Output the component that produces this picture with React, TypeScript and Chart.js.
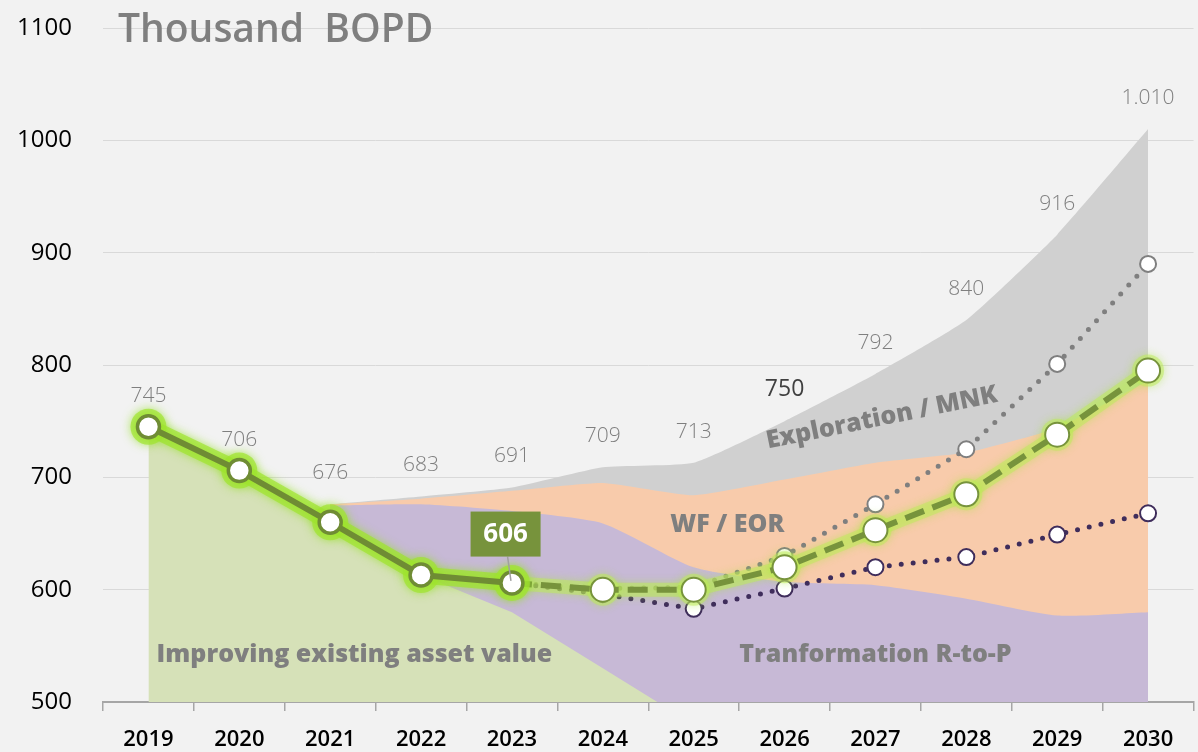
import React, { useEffect, useRef } from 'react';
import { Chart, registerables } from 'chart.js';

Chart.register(...registerables);

// ---------- data ----------
const years = ['2019', '2020', '2021', '2022', '2023', '2024', '2025', '2026', '2027', '2028', '2029', '2030'];

const actualLine = [745, 706, 660, 613, 606, null, null, null, null, null, null, null];
const basePlan = [null, null, null, null, 606, 600, 600, 620, 653, 685, 738, 795];
const highCase = [null, null, null, null, 606, 601, 602, 630, 676, 725, 801, 890];
const lowCase = [null, null, null, null, 606, 596, 583, 601, 620, 629, 649, 668];

const improvingArea = [745, 706, 660, 613, 580, 530, 480, null, null, null, null, null];
const transformationTop = [null, null, 675, 676, 670, 659, 620, 607, 604, 592, 577, 580];
const wfEorTop = [null, null, 676, 681, 688, 695, 684, 698, 713, 722, 744, 786];
const explorationTop = [null, null, 676, 683, 691, 709, 713, 750, 792, 840, 916, 1010];

const totalValues = [745, 706, 676, 683, 691, 709, 713, 750, 792, 840, 916, 1010];
const totalLabels = ['745', '706', '676', '683', '691', '709', '713', '750', '792', '840', '916', '1.010'];

const yMin = 500;
const yMax = 1100;
const yStep = 100;

const titleText = 'Thousand  BOPD';
const calloutText = '606';

// ---------- annotation placement (data coordinates) ----------
const areaNotes = [
  { text: 'Improving existing asset value', index: 0.09, value: 536, align: 'left', angle: 0 },
  { text: 'Tranformation R-to-P', index: 8, value: 536, align: 'center', angle: 0 },
  { text: 'WF / EOR', index: 6.37, value: 651.5, align: 'center', angle: 0 },
  { text: 'Exploration / MNK', index: 8.07, value: 752.7, align: 'center', angle: -11.5 },
];
const callout = { index: 3.93, value: 649.5, targetIndex: 4, targetValue: 606 };

const FONT = '"Open Sans", "Noto Sans", sans-serif';
const W = 1198;
const H = 752;
const CANVAS_W = 1208;

const glowPlugin = {
  id: 'glowPlugin',
  beforeDatasetDraw(chart: any, args: any) {
    const ds = chart.data.datasets[args.index];
    if (!ds.glow) return;
    const meta = args.meta;
    const ctx = chart.ctx;
    ctx.save();
    ctx.beginPath();
    ctx.rect(chart.chartArea.left, chart.chartArea.top, chart.chartArea.right - chart.chartArea.left, chart.chartArea.bottom - chart.chartArea.top);
    ctx.clip();
    ctx.shadowColor = ds.glow.shadow;
    ctx.shadowBlur = ds.glow.blur;
    ctx.strokeStyle = ds.glow.color;
    ctx.fillStyle = ds.glow.color;
    ctx.lineWidth = ds.glow.width;
    ctx.lineJoin = 'round';
    ctx.lineCap = 'round';
    ctx.beginPath();
    let started = false;
    meta.data.forEach((pt: any, i: number) => {
      if (ds.data[i] == null) return;
      if (!started) { ctx.moveTo(pt.x, pt.y); started = true; } else ctx.lineTo(pt.x, pt.y);
    });
    ctx.stroke();
    meta.data.forEach((pt: any, i: number) => {
      if (ds.data[i] == null) return;
      ctx.beginPath();
      ctx.arc(pt.x, pt.y, ds.glow.r, 0, Math.PI * 2);
      ctx.fill();
    });
    ctx.restore();
  },
};

const textPlugin = {
  id: 'textPlugin',
  afterDatasetsDraw(chart: any) {
    const ctx = chart.ctx;
    const xs = chart.scales.x;
    const ys = chart.scales.y;
    const area = chart.chartArea;
    ctx.save();

    // title
    ctx.font = `600 39px ${FONT}`;
    ctx.fillStyle = '#7f7f7f';
    ctx.textAlign = 'left';
    ctx.textBaseline = 'alphabetic';
    ctx.fillText(titleText, area.left + 15, area.top + 14);

    // total labels
    totalValues.forEach((v, i) => {
      const x = xs.getPixelForValue(i);
      const y = ys.getPixelForValue(v) - 25;
      const special = totalLabels[i] === '750';
      ctx.font = special ? `400 23px ${FONT}` : `300 21px ${FONT}`;
      ctx.fillStyle = special ? '#404040' : '#7f7f7f';
      ctx.textAlign = 'center';
      ctx.fillText(totalLabels[i], x, y);
    });

    // area notes
    areaNotes.forEach((n) => {
      const x = xs.getPixelForValue(n.index);
      const y = ys.getPixelForValue(n.value);
      ctx.save();
      ctx.translate(x, y);
      ctx.rotate((n.angle * Math.PI) / 180);
      ctx.font = `800 25px ${FONT}`;
      ctx.fillStyle = '#7f7f7f';
      ctx.textAlign = n.align;
      ctx.textBaseline = n.angle ? 'middle' : 'alphabetic';
      ctx.fillText(n.text, 0, 0);
      ctx.restore();
    });

    // callout box
    const cx = xs.getPixelForValue(callout.index);
    const cy = ys.getPixelForValue(callout.value);
    const tx = xs.getPixelForValue(callout.targetIndex);
    const ty = ys.getPixelForValue(callout.targetValue);
    const bw = 70, bh = 45;
    ctx.strokeStyle = '#a0a0a0';
    ctx.lineWidth = 1.5;
    ctx.beginPath();
    ctx.moveTo(cx + 2, cy + bh / 2);
    ctx.lineTo(tx - 1, ty - 2);
    ctx.stroke();
    ctx.fillStyle = '#77933c';
    ctx.fillRect(cx - bw / 2, cy - bh / 2, bw, bh);
    ctx.fillStyle = '#ffffff';
    ctx.font = `700 26px ${FONT}`;
    ctx.textAlign = 'center';
    ctx.textBaseline = 'middle';
    ctx.fillText(calloutText, cx, cy + 1);

    ctx.restore();
  },
};

export default function App() {
  const canvasRef = useRef<HTMLCanvasElement | null>(null);

  useEffect(() => {
    document.body.style.margin = '0';
    const canvas = canvasRef.current;
    if (!canvas) return;
    const chart = new Chart(canvas, {
      type: 'line',
      data: {
        labels: years,
        datasets: [
          {
            label: 'Exploration / MNK',
            data: explorationTop,
            fill: 'start',
            backgroundColor: '#d0d0d0',
            borderWidth: 0,
            pointRadius: 0,
            tension: 0.15,
            order: 20,
          },
          {
            label: 'WF / EOR',
            data: wfEorTop,
            fill: 'start',
            backgroundColor: '#f8cbab',
            borderWidth: 0,
            pointRadius: 0,
            tension: 0.15,
            order: 19,
          },
          {
            label: 'Tranformation R-to-P',
            data: transformationTop,
            fill: 'start',
            backgroundColor: '#c7b9d6',
            borderWidth: 0,
            pointRadius: 0,
            tension: 0.2,
            order: 18,
          },
          {
            label: 'Improving existing asset value',
            data: improvingArea,
            fill: 'start',
            backgroundColor: '#d6e1b8',
            borderWidth: 0,
            pointRadius: 0,
            tension: 0,
            order: 17,
          },
          {
            label: 'High case',
            data: highCase,
            borderColor: '#7f7f7f',
            borderWidth: 5,
            borderDash: [0, 12],
            borderCapStyle: 'round',
            pointRadius: 8,
            pointBorderWidth: 2,
            pointBorderColor: '#7f7f7f',
            pointBackgroundColor: '#ffffff',
            fill: false,
            order: 4,
          },
          {
            label: 'Low case',
            data: lowCase,
            borderColor: '#3f2d5b',
            borderWidth: 5,
            borderDash: [0, 12],
            borderCapStyle: 'round',
            pointRadius: 8,
            pointBorderWidth: 2,
            pointBorderColor: '#3f2d5b',
            pointBackgroundColor: '#ffffff',
            fill: false,
            order: 3,
          },
          {
            label: 'Plan',
            data: basePlan,
            borderColor: '#77933c',
            borderWidth: 6,
            borderDash: [20, 9],
            pointRadius: basePlan.map((v, i) => (i === 4 ? 0 : 12)),
            pointBorderWidth: 2,
            pointBorderColor: '#77933c',
            pointBackgroundColor: '#ffffff',
            fill: false,
            order: 2,
            glow: { color: 'rgba(190,235,90,0.5)', shadow: 'rgba(170,230,60,0.9)', blur: 8, width: 14, r: 16 },
          } as any,
          {
            label: 'Actual',
            data: actualLine,
            borderColor: '#6f8c34',
            borderWidth: 6,
            pointRadius: 11,
            pointBorderWidth: 3.5,
            pointBorderColor: '#6f8c34',
            pointBackgroundColor: '#ffffff',
            fill: false,
            order: 1,
            glow: { color: 'rgba(160,228,45,0.7)', shadow: 'rgba(150,225,40,1)', blur: 10, width: 17, r: 18 },
          } as any,
        ],
      },
      options: {
        animation: false,
        responsive: false,
        events: [],
        layout: { padding: { top: 28, right: 5, left: 0, bottom: 0 } },
        plugins: {
          legend: { display: false },
          tooltip: { enabled: false },
          title: { display: false },
        },
        scales: {
          x: {
            type: 'category',
            offset: true,
            grid: {
              offset: true,
              drawOnChartArea: false,
              drawTicks: true,
              tickLength: 9,
              color: '#a6a6a6',
              lineWidth: 1.5,
            },
            border: { display: true, color: '#a6a6a6', width: 2 },
            ticks: {
              color: '#000000',
              font: { family: FONT, size: 22, weight: '600' },
              padding: 16,
              maxRotation: 0,
            },
            afterFit: (s: any) => { s.height = 50; s.paddingLeft = 0; s.paddingRight = 0; },
          },
          y: {
            min: yMin,
            max: yMax,
            ticks: {
              stepSize: yStep,
              color: '#000000',
              font: { family: FONT, size: 24, weight: '400' },
              padding: 31,
              callback: (v: any) => String(v),
            },
            grid: { color: '#d9d9d9', lineWidth: 1, drawTicks: false },
            border: { display: false },
            afterFit: (s: any) => { s.width = 103; s.paddingTop = 0; s.paddingBottom = 0; },
          },
        },
      } as any,
      plugins: [glowPlugin, textPlugin],
    });
    return () => chart.destroy();
  }, []);

  return (
    <div style={{ position: 'fixed', left: 0, top: 0, width: W, height: H, background: '#f2f2f2', overflow: 'hidden' }}>
      <canvas ref={canvasRef} width={CANVAS_W} height={H} style={{ display: 'block', width: CANVAS_W, height: H }} />
    </div>
  );
}
